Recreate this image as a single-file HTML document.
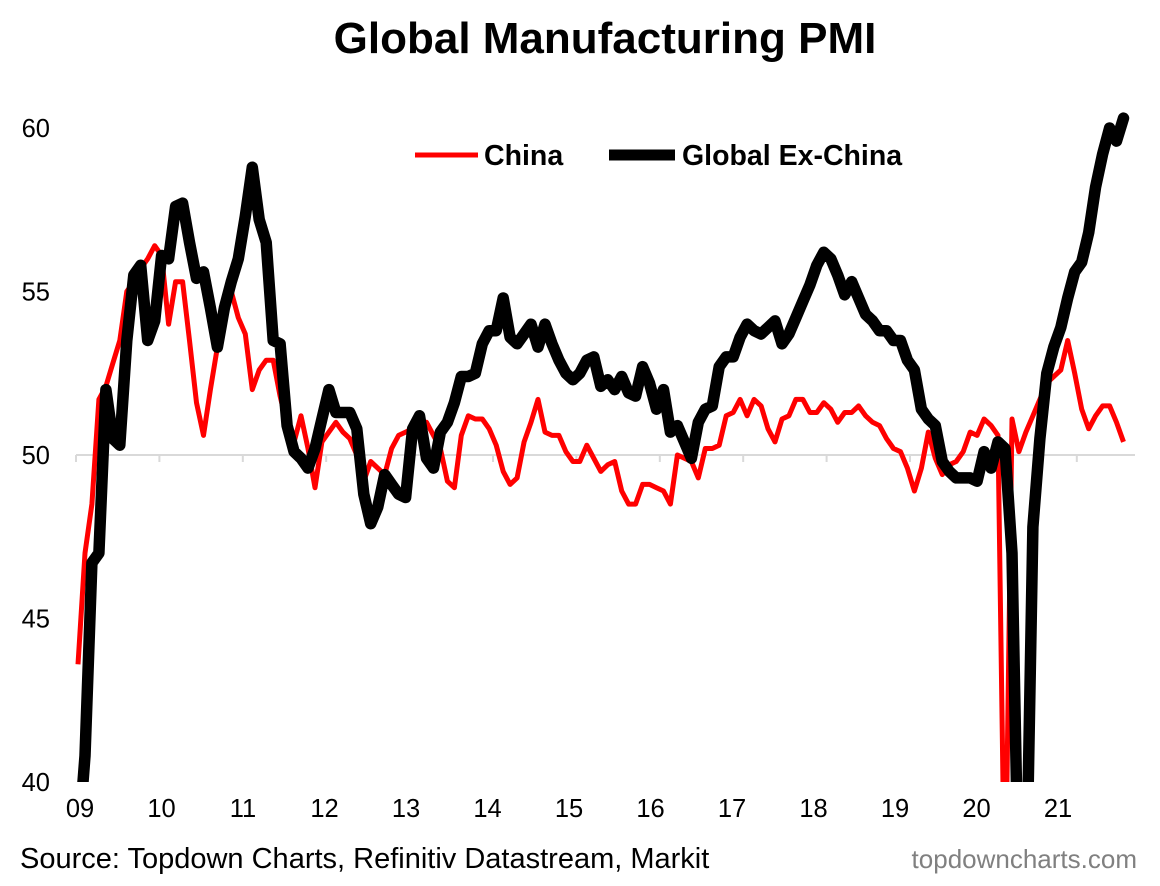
<!DOCTYPE html>
<html><head><meta charset="utf-8"><style>
html,body{margin:0;padding:0;background:#fff;}
svg{display:block;font-family:"Liberation Sans",Arial,sans-serif;}
</style></head><body>
<svg id="chart" width="1160" height="886" viewBox="0 0 1160 886">
<text x="605" y="53" text-anchor="middle" font-size="44" font-weight="bold">Global Manufacturing PMI</text>
<defs><clipPath id="plotclip"><rect x="60" y="90" width="1090" height="692"/></clipPath></defs>
<g id="yaxis"></g>
<g id="xaxis"></g>
<g clip-path="url(#plotclip)" id="series"></g>
<g>
<g>
<line x1="415" y1="155" x2="478" y2="155" stroke="#ff0000" stroke-width="5"/>
<text x="484" y="165" font-size="28.5" font-weight="bold">China</text></g>
<g>
<line x1="609" y1="155" x2="675" y2="155" stroke="#000" stroke-width="11"/>
<text x="682" y="165" font-size="28.5" font-weight="bold">Global Ex-China</text></g>
</g>
<text x="20" y="868" font-size="29">Source: Topdown Charts, Refinitiv Datastream, Markit</text>
<text x="1137" y="868" font-size="26" fill="#808080" text-anchor="end">topdowncharts.com</text>
</svg>
<script>
const yTicks=[40,45,50,55,60];
const xLabels=["09","10","11","12","13","14","15","16","17","18","19","20","21"];
const china=[43.6,47.0,48.5,51.7,52.1,52.8,53.5,55.0,55.3,55.7,56.0,56.4,56.1,54.0,55.3,55.3,53.5,51.6,50.6,52.0,53.3,54.5,55.0,54.2,53.7,52.0,52.6,52.9,52.9,51.8,50.9,50.4,51.2,50.2,49.0,50.4,50.7,51.0,50.7,50.5,50.0,49.2,49.8,49.6,49.4,50.2,50.6,50.7,50.8,50.9,51.0,50.6,50.2,49.2,49.0,50.6,51.2,51.1,51.1,50.8,50.3,49.5,49.1,49.3,50.4,51.0,51.7,50.7,50.6,50.6,50.1,49.8,49.8,50.3,49.9,49.5,49.7,49.8,48.9,48.5,48.5,49.1,49.1,49.0,48.9,48.5,50.0,49.9,49.8,49.3,50.2,50.2,50.3,51.2,51.3,51.7,51.2,51.7,51.5,50.8,50.4,51.1,51.2,51.7,51.7,51.3,51.3,51.6,51.4,51.0,51.3,51.3,51.5,51.2,51.0,50.9,50.5,50.2,50.1,49.6,48.9,49.6,50.7,49.9,49.4,49.7,49.8,50.1,50.7,50.6,51.1,50.9,50.6,35.7,51.1,50.1,50.7,51.2,51.7,52.2,52.4,52.6,53.5,52.5,51.4,50.8,51.2,51.5,51.5,51.0,50.4];
const globalExChina=[38.0,40.8,46.7,47.0,52.0,50.5,50.3,53.5,55.5,55.8,53.5,54.1,56.1,56.0,57.6,57.7,56.5,55.4,55.6,54.5,53.3,54.5,55.3,56.0,57.3,58.8,57.2,56.5,53.5,53.4,50.9,50.1,49.9,49.6,50.2,51.1,52.0,51.3,51.3,51.3,50.8,48.8,47.9,48.4,49.4,49.1,48.8,48.7,50.8,51.2,49.9,49.6,50.7,51.0,51.6,52.4,52.4,52.5,53.4,53.8,53.8,54.8,53.6,53.4,53.7,54.0,53.3,54.0,53.4,52.9,52.5,52.3,52.5,52.9,53.0,52.1,52.3,52.0,52.4,51.9,51.8,52.7,52.2,51.4,52.0,50.7,50.9,50.4,49.9,51.0,51.4,51.5,52.7,53.0,53.0,53.6,54.0,53.8,53.7,53.9,54.1,53.4,53.7,54.2,54.7,55.2,55.8,56.2,56.0,55.5,54.9,55.3,54.8,54.3,54.1,53.8,53.8,53.5,53.5,52.9,52.6,51.4,51.1,50.9,49.8,49.5,49.3,49.3,49.3,49.2,50.1,49.6,50.4,50.2,47.0,36.0,36.0,47.8,50.5,52.5,53.3,53.9,54.8,55.6,55.9,56.8,58.2,59.2,60.0,59.6,60.3];

const NS="http://www.w3.org/2000/svg";
const X0=78, DX=6.97, TICK0=76, TICKSTEP=83.4;
function xScale(i){return X0+i*DX;}
function yScale(v){return 455-(v-50)*32.7;}
function mk(tag,attrs,parent){const e=document.createElementNS(NS,tag);for(const k in attrs)e.setAttribute(k,attrs[k]);parent.appendChild(e);return e;}

const ya=document.getElementById('yaxis');
yTicks.forEach(v=>{
  const t=mk('text',{x:50,y:yScale(v)+9,'font-size':25.5,'text-anchor':'end'},ya);
  t.textContent=v;
  
  
});
const xa=document.getElementById('xaxis');
const grid=mk('line',{x1:TICK0,x2:1135,y1:yScale(50),y2:yScale(50),stroke:'#d9d9d9','stroke-width':2},xa);


xLabels.forEach((lab,k)=>{
  const tx=TICK0+k*TICKSTEP;
  const tk=mk('line',{x1:tx,x2:tx,y1:yScale(50),y2:yScale(50)+7,stroke:'#d9d9d9','stroke-width':2},xa);
  
  
  const t=mk('text',{x:80+k*81.5,y:817,'font-size':25.5,'text-anchor':'middle'},xa);
  t.textContent=lab;
  
  
});
const sg=document.getElementById('series');
function pts(arr){return arr.map((v,i)=>xScale(i).toFixed(1)+','+yScale(v).toFixed(1)).join(' ');}
const l1=mk('polyline',{points:pts(china),fill:'none',stroke:'#ff0000','stroke-width':5,'stroke-linejoin':'round'},sg);


const l2=mk('polyline',{points:pts(globalExChina),fill:'none',stroke:'#000','stroke-width':11.5,'stroke-linejoin':'round','stroke-linecap':'round'},sg);


</script>
</body></html>
